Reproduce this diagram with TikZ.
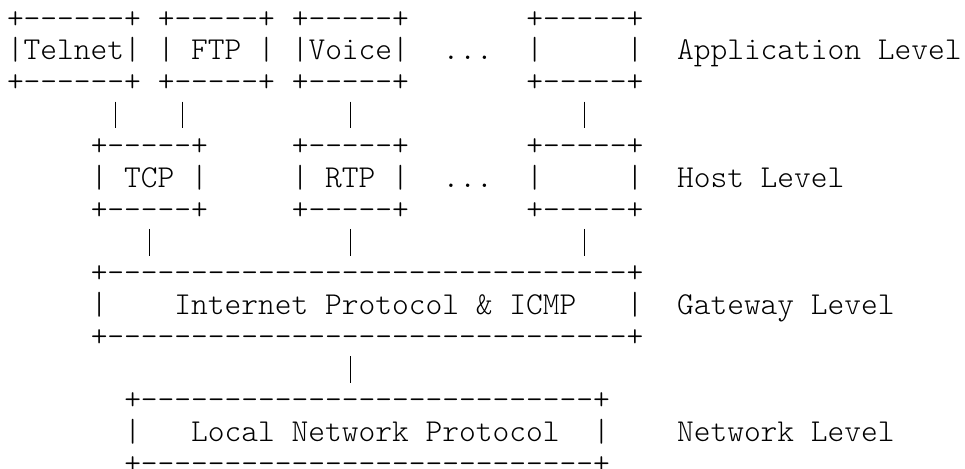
\documentclass[tikz,border=0pt]{standalone}
\usepackage{fontspec}
\setmonofont{lmmonolt10-regular.otf}
\usetikzlibrary{calc}
\tikzset{
	ascii/.style={font=\ttfamily\fontsize{31.9pt}{31.8pt}\selectfont,inner sep=0pt,outer sep=0pt,anchor=north west,align=left},
	link/.style={line width=1.1pt,shorten <=0.4pt,shorten >=4.8pt}
}
\begin{document}
\begin{tikzpicture}[x=16.75pt,y=31.8pt]
			\path[use as bounding box,fill=white] (-7pt,5.94pt) rectangle (958pt,-462.06pt);

			\node[ascii] (telnet) at (0,0) {\strut+------+\\\strut|Telnet|\\\strut+------+};
			\node[ascii] (ftp) at (9,0) {\strut+-----+\\\strut|~FTP~|\\\strut+-----+};
			\node[ascii] (voice) at (17,0) {\strut+-----+\\\strut|Voice|\\\strut+-----+};
			\node[ascii] (appdots) at (26,-1) {\strut...};
			\node[ascii] (appmore) at (31,0) {\strut+-----+\\\strut|~~~~~|\\\strut+-----+};
			\node[ascii] (applevel) at (40,-1) {\strut Application Level};

			\node[ascii] (tcp) at (5,-4) {\strut+-----+\\\strut|~TCP~|\\\strut+-----+};
			\node[ascii] (rtp) at (17,-4) {\strut+-----+\\\strut|~RTP~|\\\strut+-----+};
			\node[ascii] (hostdots) at (26,-5) {\strut...};
			\node[ascii] (hostmore) at (31,-4) {\strut+-----+\\\strut|~~~~~|\\\strut+-----+};
			\node[ascii] (hostlevel) at (40,-5) {\strut Host Level};

			\node[ascii] (ip) at (5,-8) {\strut+-------------------------------+\\\strut|~~~~Internet Protocol \& ICMP~~~|\\\strut+-------------------------------+};
			\node[ascii] (gatelevel) at (40,-9) {\strut Gateway Level};

			\node[ascii] (lnp) at (7,-12) {\strut+---------------------------+\\\strut|~~~Local Network Protocol~~|\\\strut+---------------------------+};
			\node[ascii] (netlevel) at (40,-13) {\strut Network Level};

			\draw[link] ($(telnet.south west)+(6.5,0)$) -- ($(tcp.north west)+(1.5,0)$);
			\draw[link] ($(ftp.south west)+(1.5,0)$) -- ($(tcp.north west)+(5.5,0)$);
			\draw[link] ($(voice.south west)+(3.5,0)$) -- ($(rtp.north west)+(3.5,0)$);
			\draw[link] ($(appmore.south west)+(3.5,0)$) -- ($(hostmore.north west)+(3.5,0)$);
			\draw[link] ($(tcp.south west)+(3.5,0)$) -- ($(ip.north west)+(3.5,0)$);
			\draw[link] ($(rtp.south west)+(3.5,0)$) -- ($(ip.north west)+(15.5,0)$);
			\draw[link] ($(hostmore.south west)+(3.5,0)$) -- ($(ip.north west)+(29.5,0)$);
			\draw[link] ($(ip.south west)+(15.5,0)$) -- ($(lnp.north west)+(13.5,0)$);
		\end{tikzpicture}
\end{document}
